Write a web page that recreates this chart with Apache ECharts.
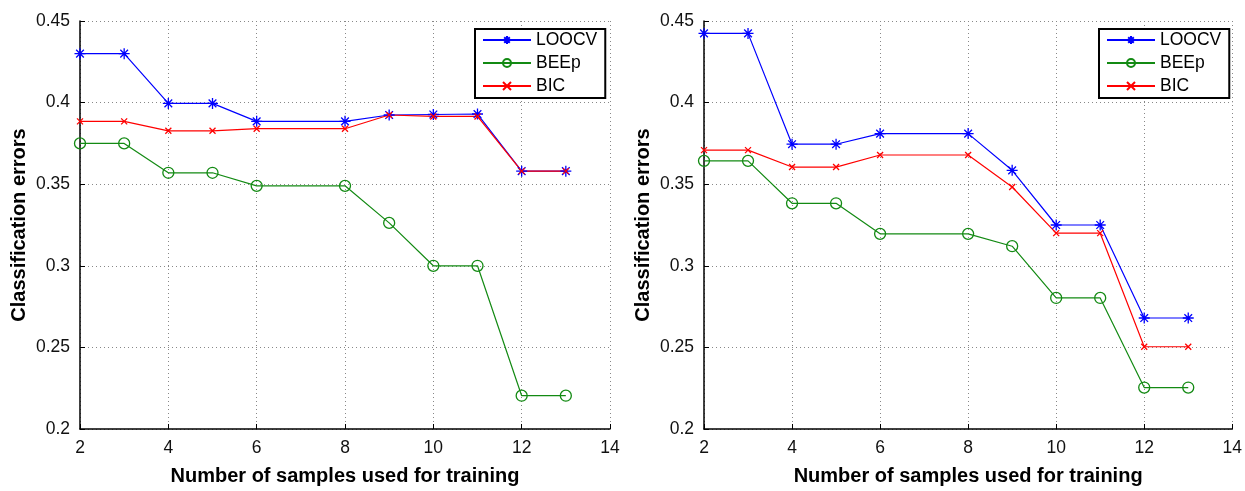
<!DOCTYPE html>
<html>
<head>
<meta charset="utf-8">
<script src="https://cdn.jsdelivr.net/npm/echarts@6/dist/echarts.min.js"></script>
<style>
html,body{margin:0;padding:0;background:#fff;}
#chart{width:1245px;height:491px;}
</style>
</head>
<body>
<div id="chart"></div>
<script>
// Training sample counts (x values); no data at 7
const samples = [2, 3, 4, 5, 6, 8, 9, 10, 11, 12, 13];
const seriesNames = ['LOOCV', 'BEEp', 'BIC'];
const xTicks = [2, 4, 6, 8, 10, 12, 14];
const yTicks = [0.2, 0.25, 0.3, 0.35, 0.4, 0.45];

// Left panel
const leftLOOCV = [0.430, 0.430, 0.3995, 0.3995, 0.3885, 0.3885, 0.3924, 0.3927, 0.393, 0.358, 0.358];
const leftBEEp  = [0.375, 0.375, 0.357, 0.357, 0.349, 0.349, 0.3263, 0.300, 0.300, 0.2204, 0.2204];
const leftBIC   = [0.3885, 0.3885, 0.3827, 0.3827, 0.384, 0.384, 0.3924, 0.3915, 0.3915, 0.358, 0.358];

// Right panel
const rightLOOCV = [0.4424, 0.4424, 0.3745, 0.3745, 0.381, 0.381, 0.3585, 0.325, 0.325, 0.268, 0.268];
const rightBEEp  = [0.3643, 0.3643, 0.3383, 0.3383, 0.3196, 0.3196, 0.312, 0.2803, 0.2803, 0.2254, 0.2254];
const rightBIC   = [0.3709, 0.3709, 0.3605, 0.3605, 0.3679, 0.3679, 0.3483, 0.320, 0.320, 0.2504, 0.2504];

const FONT = '"Liberation Sans", Arial, sans-serif';
const colors = { LOOCV: '#0000ff', BEEp: '#138a13', BIC: '#ff0000' };
const star = 'path://M5,0L5,10M0,5L10,5M1.5,1.5L8.5,8.5M1.5,8.5L8.5,1.5';
const cross = 'path://M0,0L10,10M0,10L10,0';
const symbols = { LOOCV: star, BEEp: 'circle', BIC: cross };
const sizes = { LOOCV: 11, BEEp: 11, BIC: 6 };

function pairs(vals) { return samples.map((x, i) => [x, vals[i]]); }

const grids = [
  { left: 80, top: 21, width: 530, height: 417 },
  { left: 704, top: 21, width: 530, height: 417 }
];

function xAxis(gi) {
  return {
    type: 'value', gridIndex: gi, min: xTicks[0], max: xTicks[xTicks.length - 1], interval: 2,
    name: 'Number of samples used for training', nameLocation: 'middle', nameGap: 37,
    nameTextStyle: { fontFamily: FONT, fontSize: 20, fontWeight: 'bold', color: '#000' },
    axisLine: { show: true, lineStyle: { color: '#000', width: 1.5 } },
    axisTick: { show: true, inside: true, length: 5, lineStyle: { color: '#000' } },
    axisLabel: { fontFamily: FONT, fontSize: 17.5, color: '#111', margin: 10 },
    splitLine: { show: true, lineStyle: { color: '#888', type: [1, 3], width: 1 } }
  };
}
function yAxis(gi) {
  return {
    type: 'value', gridIndex: gi, min: yTicks[0], max: yTicks[yTicks.length - 1], interval: 0.05,
    name: 'Classification errors', nameLocation: 'middle', nameGap: 51,
    nameTextStyle: { fontFamily: FONT, fontSize: 20, fontWeight: 'bold', color: '#000' },
    axisLine: { show: true, lineStyle: { color: '#000', width: 1.5 } },
    axisTick: { show: true, inside: true, length: 5, lineStyle: { color: '#000' } },
    axisLabel: { fontFamily: FONT, fontSize: 17.5, color: '#111', margin: 10 },
    splitLine: { show: true, lineStyle: { color: '#888', type: [1, 3], width: 1 } }
  };
}

function mkSeries(name, vals, gi) {
  const c = colors[name];
  return {
    name: name, type: 'line', xAxisIndex: gi, yAxisIndex: gi,
    data: pairs(vals),
    symbol: symbols[name], symbolSize: sizes[name],
    showAllSymbol: true,
    lineStyle: { color: c, width: 1.2 },
    itemStyle: { color: name === 'BEEp' ? 'rgba(255,255,255,0)' : c, borderColor: c, borderWidth: 1.3 },
    emphasis: { disabled: true },
    animation: false
  };
}

function legend(left) {
  return {
    data: seriesNames, orient: 'vertical', left: left, top: 29,
    backgroundColor: '#fff',
    borderColor: '#000', borderWidth: 2,
    padding: [2, 8, 3, 7], itemGap: 5, itemWidth: 48, itemHeight: 10,
    textStyle: { fontFamily: FONT, fontSize: 17.5, color: '#000', lineHeight: 18 },
    selectedMode: false
  };
}

const chart = echarts.init(document.getElementById('chart'), null, { renderer: 'canvas' });
chart.setOption({
  backgroundColor: '#fff',
  animation: false,
  grid: grids,
  xAxis: [xAxis(0), xAxis(1)],
  yAxis: [yAxis(0), yAxis(1)],
  legend: [legend(475), legend(1099)],
  series: [
    mkSeries('LOOCV', leftLOOCV, 0),
    mkSeries('BEEp', leftBEEp, 0),
    mkSeries('BIC', leftBIC, 0),
    mkSeries('LOOCV', rightLOOCV, 1),
    mkSeries('BEEp', rightBEEp, 1),
    mkSeries('BIC', rightBIC, 1)
  ]
});
</script>
</body>
</html>
